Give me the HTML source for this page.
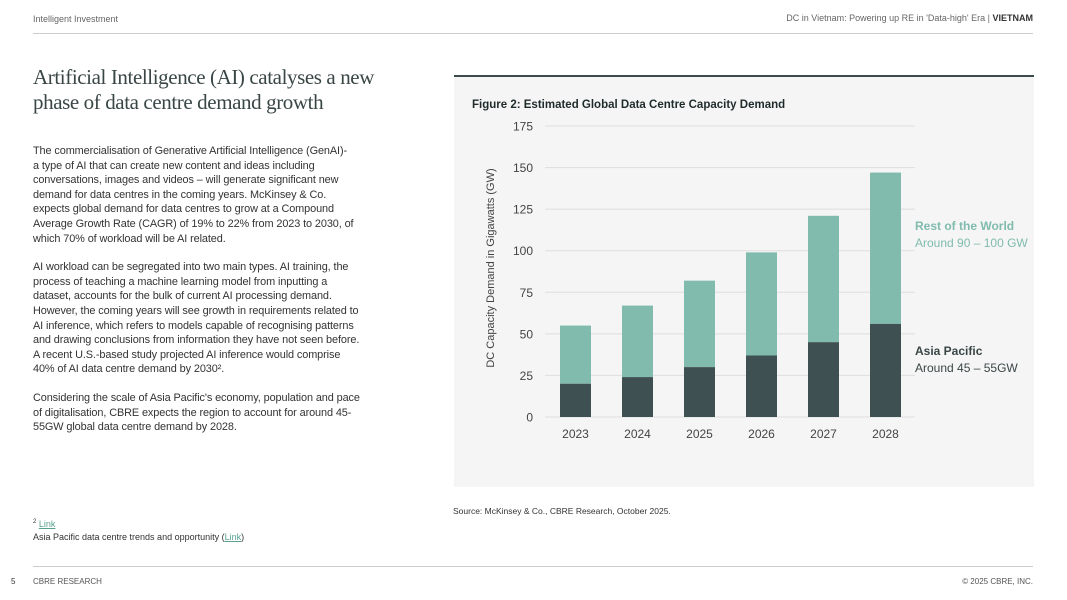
<!DOCTYPE html>
<html><head><meta charset="utf-8"><style>
body{margin:0;width:1067px;height:600px;background:#fff;font-family:"Liberation Sans",sans-serif;color:#333;position:relative;overflow:hidden}
.a{position:absolute;white-space:nowrap}
.body p{margin:0 0 14px 0;font-size:10.9px;line-height:14.6px;color:#333;letter-spacing:-0.1px}
</style></head><body>
<div class="a" style="left:33px;top:14px;font-size:9px;color:#666">Intelligent Investment</div>
<div class="a" style="right:34px;top:13px;font-size:9px;color:#666">DC in Vietnam: Powering up RE in 'Data-high' Era | <b style="color:#333">VIETNAM</b></div>
<div class="a" style="left:33px;top:33px;width:1000px;height:1px;background:#ccc"></div>
<div class="a" style="left:33px;top:65px;font-family:'Liberation Serif',serif;font-size:21px;line-height:25px;color:#3a4646;letter-spacing:-0.4px">Artificial Intelligence (AI) catalyses a new<br>phase of data centre demand growth</div>
<div class="a body" style="left:33px;top:144px">
<p>The commercialisation of Generative Artificial Intelligence (GenAI)-<br>a type of AI that can create new content and ideas including<br>conversations, images and videos – will generate significant new<br>demand for data centres in the coming years. McKinsey &amp; Co.<br>expects global demand for data centres to grow at a Compound<br>Average Growth Rate (CAGR) of 19% to 22% from 2023 to 2030, of<br>which 70% of workload will be AI related.</p>
<p>AI workload can be segregated into two main types. AI training, the<br>process of teaching a machine learning model from inputting a<br>dataset, accounts for the bulk of current AI processing demand.<br>However, the coming years will see growth in requirements related to<br>AI inference, which refers to models capable of recognising patterns<br>and drawing conclusions from information they have not seen before.<br>A recent U.S.-based study projected AI inference would comprise<br>40% of AI data centre demand by 2030².</p>
<p>Considering the scale of Asia Pacific's economy, population and pace<br>of digitalisation, CBRE expects the region to account for around 45-<br>55GW global data centre demand by 2028.</p>
</div>
<div class="a" style="left:33px;top:516px;font-size:9px;line-height:13px;color:#333"><sup style="font-size:6px">2</sup> <span style="color:#5aa08f;text-decoration:underline">Link</span><br>Asia Pacific data centre trends and opportunity (<span style="color:#5aa08f;text-decoration:underline">Link</span>)</div>
<div class="a" style="left:453px;top:506px;font-size:8.5px;color:#333">Source: McKinsey &amp; Co., CBRE Research, October 2025.</div>
<div class="a" style="left:33px;top:566px;width:1000px;height:1px;background:#ccc"></div>
<div class="a" style="left:11px;top:577px;font-size:8px;color:#333">5</div>
<div class="a" style="left:33px;top:577px;font-size:8px;color:#555">CBRE RESEARCH</div>
<div class="a" style="right:34px;top:577px;font-size:8px;color:#555">© 2025 CBRE, INC.</div>

<div class="a" style="left:454px;top:75px;width:580px;height:410px;background:#f5f5f5;border-top:2px solid #3d4a4a"></div>
<svg class="a" style="left:0;top:0" width="1067" height="600" id="chart" font-family="Liberation Sans, sans-serif">
<text x="472" y="108" font-size="11.5" font-weight="bold" fill="#1f2b2b">Figure 2: Estimated Global Data Centre Capacity Demand</text>
<text transform="translate(494,268) rotate(-90)" text-anchor="middle" font-size="11" fill="#444">DC Capacity Demand in Gigawatts (GW)</text>
<g id="grid"></g><g id="bars"></g>
<text x="915" y="230" font-size="12" font-weight="bold" fill="#80bbad">Rest of the World</text>
<text x="915" y="247" font-size="12" fill="#80bbad">Around 90 – 100 GW</text>
<text x="915" y="355" font-size="12" font-weight="bold" fill="#3a4646">Asia Pacific</text>
<text x="915" y="372" font-size="12" fill="#3a4646">Around 45 – 55GW</text>
</svg>
<script>
const years=["2023","2024","2025","2026","2027","2028"];
const asiaPacific=[20,24,30,37,45,56];
const totals=[55,67,82,99,121,147];
const ticks=[0,25,50,75,100,125,150,175];
const ns="http://www.w3.org/2000/svg";
const y0=417,yTop=126,yMax=175;
function y(v){return y0-(v/yMax)*(y0-yTop);}
function xc(i){return 575.5+i*62;}
const grid=document.getElementById('grid'),bars=document.getElementById('bars');
function mk(tag,at,parent){const e=document.createElementNS(ns,tag);for(const k in at)e.setAttribute(k,at[k]);parent.appendChild(e);return e;}
ticks.forEach(t=>{
  const l=mk('line',{x1:545,x2:915,y1:y(t),y2:y(t),stroke:'#dedede','stroke-width':1},grid);
  
  
  const tx=mk('text',{x:533,y:y(t)+4.5,'text-anchor':'end','font-size':12,fill:'#444'},grid);
  tx.textContent=t;
  
  
});
years.forEach((yr,i)=>{
  const x=xc(i)-15.5,w=31;
  const r=mk('rect',{x:x,y:y(totals[i]),width:w,height:y(asiaPacific[i])-y(totals[i]),fill:'#80bbad'},bars);
  
  
  const a=mk('rect',{x:x,y:y(asiaPacific[i]),width:w,height:y0-y(asiaPacific[i]),fill:'#3f5052'},bars);
  
  
  const t=mk('text',{x:xc(i),y:438,'text-anchor':'middle','font-size':12,fill:'#444'},bars);
  t.textContent=yr;
  
  
});
</script>
</body></html>
